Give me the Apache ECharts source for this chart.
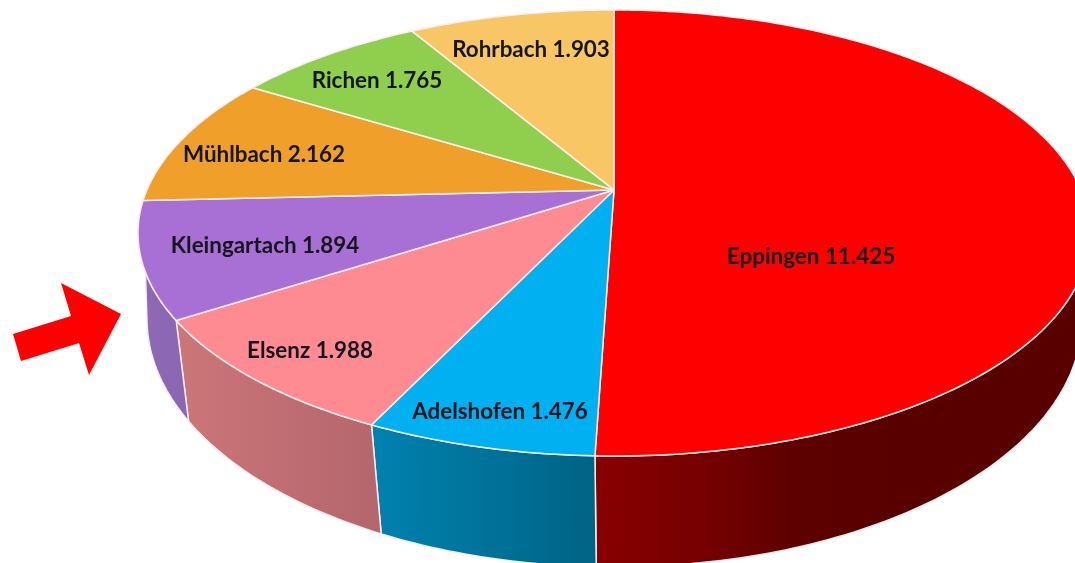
<!DOCTYPE html>
<html>
<head>
<meta charset="utf-8">
<script src="https://cdn.jsdelivr.net/npm/echarts@6/dist/echarts.min.js"></script>
<style>
  html, body { margin: 0; padding: 0; background: #fff; }
  #chart { width: 1075px; height: 563px; }
</style>
</head>
<body>
<div id="chart"></div>
<script>
const names = ['Eppingen', 'Adelshofen', 'Elsenz', 'Kleingartach', 'Mühlbach', 'Richen', 'Rohrbach']
const values = [11425, 1476, 1988, 1894, 2162, 1765, 1903]

const topColors = ['#ff0000', '#00b0f0', '#ff8b92', '#a870d4', '#f0a02a', '#90ce4e', '#f9c666']
// side wall gradients, evenly spaced from left to right
const sideColors = [
  ['#880000', '#780000', '#5e0000', '#580000', '#580000', '#580000'],
  ['#0082b0', '#006385'],
  ['#cc7679', '#b4666c'],
  ['#9068b8', '#8a66b0'],
  null, null, null
]
// label centres, placed by hand like in the original
const labelPos = [[811, 257], [500, 412], [310, 351], [265, 246], [264, 155], [377, 81], [531, 50]]

// tilted disc: the top ellipse and the lower rim ellipse, each with its perspective shift
const topRim = { cx: 614, cy: 233, a: 476, b: 223, shift: -0.193 }
const lowRim = { cx: 614.5, cy: 319, a: 467.5, b: 248, shift: -0.17 }
const sideFrom = 70
const sideTo = 270
const lowRimTo = 260 // the lower rim turns out of sight here

const total = values.reduce((s, v) => s + v, 0)
const starts = []
values.reduce((s, v, i) => { starts[i] = s; return s + v }, 0)
const toDeg = v => v / total * 360

// angle is clockwise from the top of the pie
const project = (deg, rim) => {
  const t = deg * Math.PI / 180
  const x = Math.sin(t)
  const y = -Math.cos(t)
  const d = 1 + rim.shift * y
  return [
    rim.cx + rim.a * x * Math.sqrt(1 - rim.shift * rim.shift) / d,
    rim.cy + rim.b * (y + rim.shift) / d
  ]
}

const arc = (from, to, rim) => {
  const pts = []
  const n = Math.max(2, Math.ceil(Math.abs(to - from)))
  for (let i = 0; i <= n; i++) pts.push(project(from + (to - from) * i / n, rim))
  return pts
}

const apex = [topRim.cx, topRim.cy + topRim.b * topRim.shift]
const data = names.map((n, i) => ({ name: n, value: values[i] }))

const renderSide = (params, api) => {
  const i = params.dataIndex
  const from = Math.max(toDeg(starts[i]), sideFrom)
  const to = Math.min(toDeg(starts[i] + api.value(0)), sideTo)
  if (to <= from || !sideColors[i]) return null
  const stops = sideColors[i].map((c, k, all) => ({ offset: k / (all.length - 1), color: c }))
  return {
    type: 'polygon',
    shape: { points: arc(from, to, topRim).concat(arc(Math.min(to, lowRimTo), from, lowRim)) },
    style: {
      fill: new echarts.graphic.LinearGradient(0, 0, 1, 0, stops),
      stroke: '#f4eeee',
      lineWidth: 1.5
    }
  }
}

const renderTop = (params, api) => {
  const i = params.dataIndex
  const from = toDeg(starts[i])
  const to = toDeg(starts[i] + api.value(0))
  return {
    type: 'polygon',
    shape: { points: [apex].concat(arc(from, to, topRim)) },
    style: { fill: topColors[i], stroke: '#f7eeee', lineWidth: 1.5, lineJoin: 'round' }
  }
}

const renderLabel = (params, api) => {
  const i = params.dataIndex
  return {
    type: 'text',
    x: labelPos[i][0],
    y: labelPos[i][1],
    style: {
      text: names[i] + ' ' + api.value(0).toLocaleString('de-DE'),
      font: 'bold 22.4px Lato, "Open Sans", sans-serif',
      fill: '#15151f',
      align: 'center',
      verticalAlign: 'middle'
    }
  }
}

const chart = echarts.init(document.getElementById('chart'), null, { renderer: 'canvas' })
chart.setOption({
  animation: false,
  backgroundColor: '#ffffff',
  tooltip: { show: false },
  series: [
    { type: 'custom', coordinateSystem: 'none', z: 1, silent: true, data: data, renderItem: renderSide },
    { type: 'custom', coordinateSystem: 'none', z: 2, silent: true, data: data, renderItem: renderTop },
    { type: 'custom', coordinateSystem: 'none', z: 3, silent: true, data: data, renderItem: renderLabel }
  ],
  graphic: [
    {
      // red arrow pointing at Kleingartach
      type: 'polygon',
      z: 5,
      silent: true,
      shape: { points: [[61, 283], [121, 314], [89, 375], [79, 343], [21, 361], [13, 334], [71, 316]] },
      style: { fill: '#ff0000' }
    }
  ]
})
</script>
</body>
</html>
